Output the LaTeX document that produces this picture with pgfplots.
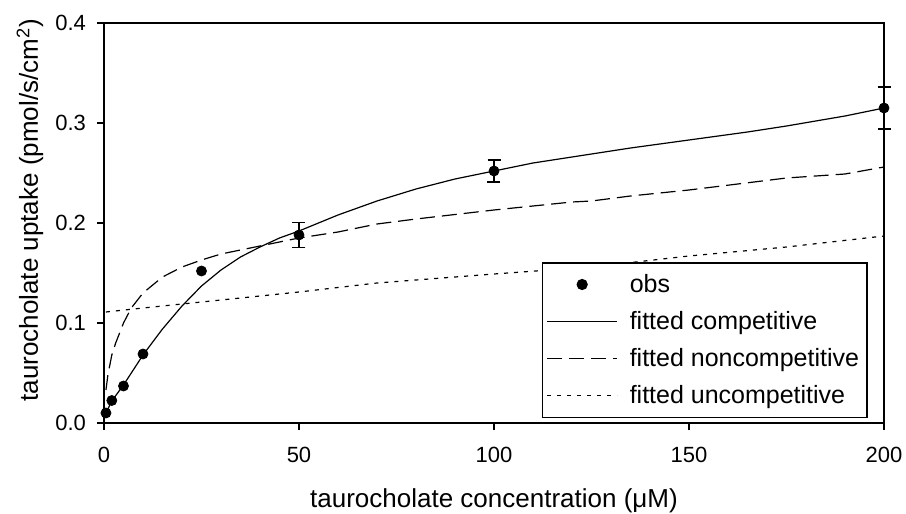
\documentclass[border=0pt]{standalone}
\usepackage{fontspec}
\setmainfont{Liberation Sans}
\usepackage{pgfplots}
\pgfplotsset{compat=1.18}
\begin{document}
\begin{tikzpicture}
\useasboundingbox (-52pt,-45.5pt) rectangle (401pt,211.5pt);
\begin{axis}[
  at={(0pt,0pt)}, anchor=south west,
  scale only axis, width=390pt, height=200pt,
  xmin=0, xmax=200, ymin=0, ymax=0.4,
  xtick={0,50,100,150,200}, ytick={0,0.1,0.2,0.3,0.4},
  tick pos=left, tick align=outside, major tick length=3.5pt,
  axis line style={line width=0.75pt}, every tick/.style={black, line width=0.6pt},
  /pgf/number format/assume math mode=true,
  tick label style={font=\fontsize{11}{13}\selectfont},
  xticklabel style={yshift=-5pt},
  yticklabel style={xshift=-2pt, /pgf/number format/.cd, fixed, fixed zerofill, precision=1},
  xlabel={taurocholate concentration (μM)},
  ylabel={taurocholate uptake (pmol/s/cm\textsuperscript{2})},
  label style={font=\fontsize{13}{15}\selectfont},
  x label style={at={(axis description cs:0.5,-0.195)}, anchor=center},
  y label style={at={(axis description cs:-0.0949,0.532)}, anchor=center},
  clip=false,
  legend cell align=left,
  legend style={at={(axis description cs:0.5615,0.0125)}, anchor=south west,
    font=\fontsize{12.5}{15}\selectfont, draw=black, line width=0.6pt,
    inner xsep=2pt, inner ysep=3.5pt, row sep=4pt},
  legend image code/.code={\draw[mark repeat=2,mark phase=2,#1] plot coordinates {(0pt,0pt)(17.5pt,0pt)(35pt,0pt)}; \path (39pt,0pt);},
]
\addplot[only marks, mark=*, mark size=2.5pt, black,
  error bars/.cd, y dir=both, y explicit,
  error bar style={line width=0.6pt},
  error mark options={rotate=90, mark size=3.25pt, line width=0.6pt}]
  coordinates {
  (0.5,0.010) (2,0.0225) (5,0.037) (10,0.069) (25,0.152)
  (50,0.188) +- (0,0.0125)
  (100,0.252) +- (0,0.011)
  (200,0.315) +- (0,0.021)
};
\addlegendentry{obs}
\addplot[black, line width=0.6pt] coordinates {
  (0.5,0.010) (2,0.022) (5,0.038) (10,0.068) (15,0.094) (20,0.117) (25,0.137)
  (30,0.153) (35,0.166) (40,0.176) (45,0.185) (50,0.192) (60,0.208) (70,0.222)
  (80,0.234) (90,0.244) (100,0.252) (110,0.260) (125,0.269) (135,0.275)
  (150,0.283) (165,0.291) (175,0.297) (190,0.307) (200,0.315)
};
\addlegendentry{fitted competitive}
\addplot[black, line width=0.6pt, dash pattern=on 7.5pt off 3.5pt] coordinates {
  (0.5,0.033) (1,0.048) (2,0.068) (3,0.080) (5,0.100) (7,0.115) (10,0.130)
  (15,0.146) (20,0.156) (25,0.163) (30,0.169) (35,0.173) (40,0.177) (50,0.185)
  (60,0.191) (70,0.199) (80,0.204) (100,0.213) (120,0.221) (125,0.222)
  (135,0.227) (150,0.233) (175,0.245) (190,0.249) (200,0.256)
};
\addlegendentry{fitted noncompetitive}
\addplot[black, line width=0.6pt, dash pattern=on 2pt off 3pt] coordinates {
  (0.5,0.111) (10,0.115) (25,0.121) (50,0.131) (70,0.140) (100,0.149)
  (125,0.156) (150,0.167) (175,0.176) (200,0.187)
};
\addlegendentry{fitted uncompetitive}
\end{axis}
\end{tikzpicture}
\end{document}
